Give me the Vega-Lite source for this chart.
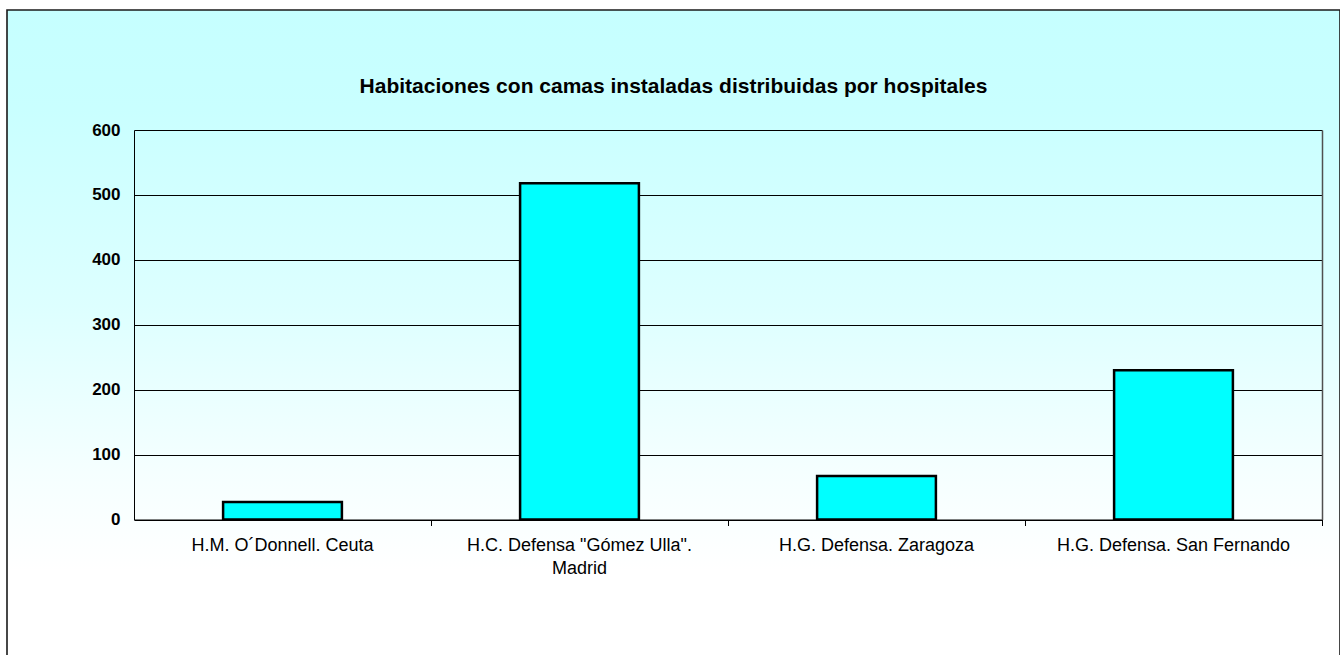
{
  "$schema": "https://vega.github.io/schema/vega-lite/v6.json",
  "autosize": {"type": "none"},
  "padding": {"left": 7, "top": 10, "right": 0, "bottom": 0},
  "width": 1333,
  "height": 660,
  "background": "#ffffff",
  "config": {
    "font": "Liberation Sans",
    "view": {
      "fill": {
        "gradient": "linear",
        "x1": 0, "y1": 0, "x2": 0, "y2": 1,
        "stops": [
          {"offset": 0, "color": "#c6ffff"},
          {"offset": 0.15, "color": "#c9ffff"},
          {"offset": 0.45, "color": "#ddffff"},
          {"offset": 0.7, "color": "#f5ffff"},
          {"offset": 0.85, "color": "#ffffff"},
          {"offset": 1, "color": "#ffffff"}
        ]
      },
      "stroke": "#1a1a1a",
      "strokeWidth": 1.6
    }
  },
  "title": {
    "text": "Habitaciones con camas instaladas distribuidas por hospitales",
    "font": "Liberation Sans",
    "fontSize": 21,
    "fontWeight": "bold",
    "color": "#000000",
    "anchor": "middle",
    "baseline": "alphabetic",
    "offset": -104
  },
  "data": {
    "values": [
      {"hospital": "H.M. O´Donnell. Ceuta", "habitaciones": 27},
      {"hospital": "H.C. Defensa \"Gómez Ulla\". Madrid", "habitaciones": 518},
      {"hospital": "H.G. Defensa. Zaragoza", "habitaciones": 67},
      {"hospital": "H.G. Defensa. San Fernando", "habitaciones": 230}
    ]
  },
  "encoding": {
    "x": {
      "field": "hospital",
      "type": "nominal",
      "sort": null,
      "scale": {"range": [127, 1315], "paddingInner": 0.6, "paddingOuter": 0.3},
      "axis": {
        "title": null,
        "orient": "bottom",
        "offset": -150.5,
        "labelAngle": 0,
        "labelFont": "Liberation Sans",
        "labelFontSize": 18,
        "labelColor": "#000000",
        "labelPadding": 11,
        "labelBaseline": "top",
        "labelLineHeight": 23,
        "labelLimit": 0,
        "labelExpr": "indexof(datum.label, 'Madrid') >= 0 ? ['H.C. Defensa \"Gómez Ulla\".', 'Madrid'] : datum.label",
        "bandPosition": 1.75,
        "ticks": true,
        "tickSize": 6,
        "tickColor": "#000000",
        "tickWidth": 1,
        "domain": true,
        "domainColor": "#000000",
        "domainWidth": 1,
        "grid": false
      }
    }
  },
  "layer": [
    {
      "mark": {"type": "bar", "fill": "#00ffff", "stroke": "#000000", "strokeWidth": 2.5},
      "encoding": {
        "y": {
          "field": "habitaciones",
          "type": "quantitative",
          "scale": {"domain": [0, 600], "range": [509.5, 120], "nice": false, "zero": true},
          "axis": {
            "title": null,
            "orient": "left",
            "offset": -127,
            "values": [0, 100, 200, 300, 400, 500, 600],
            "labelFont": "Liberation Sans",
            "labelFontSize": 17,
            "labelFontWeight": "bold",
            "labelColor": "#000000",
            "labelPadding": 14,
            "ticks": false,
            "domain": true,
            "domainColor": "#000000",
            "domainWidth": 1,
            "grid": true,
            "gridColor": "#000000",
            "gridWidth": 1,
            "gridOpacity": 1
          }
        }
      }
    },
    {
      "mark": {"type": "bar", "opacity": 0},
      "encoding": {
        "y": {
          "field": "habitaciones",
          "type": "quantitative",
          "scale": {"domain": [0, 600], "range": [509.5, 120], "nice": false, "zero": true},
          "axis": {
            "title": null,
            "orient": "right",
            "offset": -18,
            "labels": false,
            "ticks": false,
            "grid": false,
            "domain": true,
            "domainColor": "#505050",
            "domainWidth": 1.5
          }
        }
      }
    }
  ]
}
